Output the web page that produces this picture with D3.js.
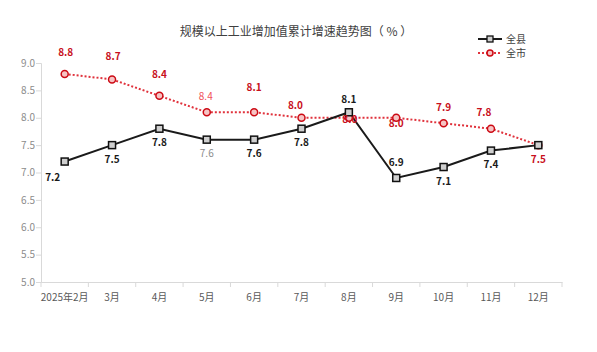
<!DOCTYPE html>
<html>
<head>
<meta charset="utf-8">
<script src="https://cdn.jsdelivr.net/npm/d3@7"></script>
<style>
  body { margin: 0; background: #fff; }
  svg { font-family: "Noto Sans CJK SC", "Microsoft YaHei", sans-serif; }
</style>
</head>
<body>
<svg id="chart" width="597" height="352"></svg>
<script>
var months = ["2025年2月", "3月", "4月", "5月", "6月", "7月", "8月", "9月", "10月", "11月", "12月"];
var county = [7.2, 7.5, 7.8, 7.6, 7.6, 7.8, 8.1, 6.9, 7.1, 7.4, 7.5];
var city = [8.8, 8.7, 8.4, 8.1, 8.1, 8.0, 8.0, 8.0, 7.9, 7.8, 7.5];
var cityText = ["8.8", "8.7", "8.4", "8.4", "8.1", "8.0", "8.0", "8.0", "7.9", "7.8", "7.5"];
var yTicks = [5.0, 5.5, 6.0, 6.5, 7.0, 7.5, 8.0, 8.5, 9.0];

// label placement (pixels, relative to point)
var countyOff = [[-12, 16], [0, 14], [0, 14], [0, 14], [0, 14], [0, 14], [0, -13], [0, -15], [0, 14], [0, 14], null];
var cityOff = [[1, -21], [1, -23], [0, -21], [-1, -16], [0, -25], [-6, -12], [1, 2], [0, 6], [0, -16], [-7, -16], [0, 14]];

var svg = d3.select("#chart");
var margin = {left: 41, right: 35, top: 63, bottom: 70};
var W = 597, H = 352;

var x = d3.scaleBand().domain(months).range([margin.left, W - margin.right]);
var y = d3.scaleLinear().domain([5, 9]).range([H - margin.bottom, margin.top]);

var axisColor = "#d9d9d9";
var fmt = d3.format(".1f");

// title
svg.append("text")
  .attr("x", 296).attr("y", 36)
  .attr("text-anchor", "middle")
  .attr("font-size", "12px")
  .attr("fill", "#404040")
  .text("规模以上工业增加值累计增速趋势图（ % ）");

// y axis
var yAxis = svg.append("g")
  .attr("transform", "translate(" + margin.left + ",0)")
  .call(d3.axisLeft(y).tickValues(yTicks).tickFormat(fmt).tickSizeOuter(0).tickSize(5));
yAxis.select(".domain").attr("stroke", axisColor);
yAxis.selectAll(".tick line").attr("stroke", axisColor);
yAxis.selectAll("text").attr("fill", "#8c8c8c").attr("font-size", "10px")
  .attr("font-family", "Noto Sans CJK SC").attr("x", -6);

// x axis
var xAxis = svg.append("g")
  .attr("transform", "translate(0," + y(5) + ")")
  .call(d3.axisBottom(x).tickSize(0).tickPadding(12));
xAxis.select(".domain").attr("stroke", axisColor);
xAxis.selectAll("text").attr("fill", "#595959").attr("font-size", "10px")
  .attr("font-family", "Noto Sans CJK SC");
xAxis.selectAll(".bound")
  .data(months.concat([null]))
  .enter().append("line")
  .attr("x1", function (d, i) { return margin.left + i * x.step(); })
  .attr("x2", function (d, i) { return margin.left + i * x.step(); })
  .attr("y1", 0).attr("y2", 5)
  .attr("stroke", axisColor);

function cx(i) { return x(months[i]) + x.bandwidth() / 2; }

var line = d3.line().x(function (d, i) { return cx(i); }).y(function (d) { return y(d); });

// city line (dotted red)
svg.append("path")
  .datum(city)
  .attr("d", line)
  .attr("fill", "none")
  .attr("stroke", "#e0323c")
  .attr("stroke-width", 2)
  .attr("stroke-dasharray", "2,2");

// county line
svg.append("path")
  .datum(county)
  .attr("d", line)
  .attr("fill", "none")
  .attr("stroke", "#1a1a1a")
  .attr("stroke-width", 2);

// city markers
svg.selectAll(".cm").data(city).enter().append("circle")
  .attr("cx", function (d, i) { return cx(i); })
  .attr("cy", function (d) { return y(d); })
  .attr("r", 3.5)
  .attr("fill", function (d, i) { return i === city.length - 1 ? "#e0323c" : "#f6c4c4"; })
  .attr("stroke", "#cc0a14")
  .attr("stroke-width", 1.5);

// county markers
svg.selectAll(".km").data(county).enter().append("rect")
  .attr("x", function (d, i) { return cx(i) - 3.5; })
  .attr("y", function (d) { return y(d) - 3.5; })
  .attr("width", 7).attr("height", 7)
  .attr("fill", "#cfcfcf")
  .attr("stroke", "#111")
  .attr("stroke-width", 1.5);

// city labels
svg.selectAll(".cl").data(city).enter().append("text")
  .attr("x", function (d, i) { return cx(i) + cityOff[i][0]; })
  .attr("y", function (d, i) { return y(d) + cityOff[i][1]; })
  .attr("dy", "0.35em")
  .attr("text-anchor", "middle")
  .attr("font-size", "10px")
  .attr("font-weight", function (d, i) { return i === 3 ? "normal" : "bold"; })
  .attr("fill", function (d, i) { return i === 3 ? "#f0505a" : "#c8101c"; })
  .text(function (d, i) { return cityText[i]; });

// county labels (12月 label hidden behind city label in the original)
county.forEach(function (d, i) {
  if (!countyOff[i]) return;
  svg.append("text")
    .attr("x", cx(i) + countyOff[i][0])
    .attr("y", y(d) + countyOff[i][1])
    .attr("dy", "0.35em")
    .attr("text-anchor", "middle")
    .attr("font-size", "10px")
    .attr("font-weight", i === 3 ? "normal" : "bold")
    .attr("fill", i === 3 ? "#8c8c8c" : "#1a1a1a")
    .text(fmt(d));
});

// legend
var legend = svg.append("g").attr("transform", "translate(478,39)");
legend.append("line").attr("x1", 0).attr("x2", 24).attr("y1", 0).attr("y2", 0)
  .attr("stroke", "#1a1a1a").attr("stroke-width", 2);
legend.append("rect").attr("x", 9).attr("y", -3).attr("width", 6).attr("height", 6)
  .attr("fill", "#cfcfcf").attr("stroke", "#111").attr("stroke-width", 1.3);
legend.append("text").attr("x", 28).attr("y", 0).attr("dy", "0.35em")
  .attr("font-size", "10px").attr("fill", "#404040").text("全县");
legend.append("line").attr("x1", 0).attr("x2", 24).attr("y1", 14).attr("y2", 14)
  .attr("stroke", "#e0323c").attr("stroke-width", 2).attr("stroke-dasharray", "2,2");
legend.append("circle").attr("cx", 12).attr("cy", 14).attr("r", 3)
  .attr("fill", "#f6c4c4").attr("stroke", "#cc0a14").attr("stroke-width", 1.5);
legend.append("text").attr("x", 28).attr("y", 14).attr("dy", "0.35em")
  .attr("font-size", "10px").attr("fill", "#404040").text("全市");
</script>
</body>
</html>
